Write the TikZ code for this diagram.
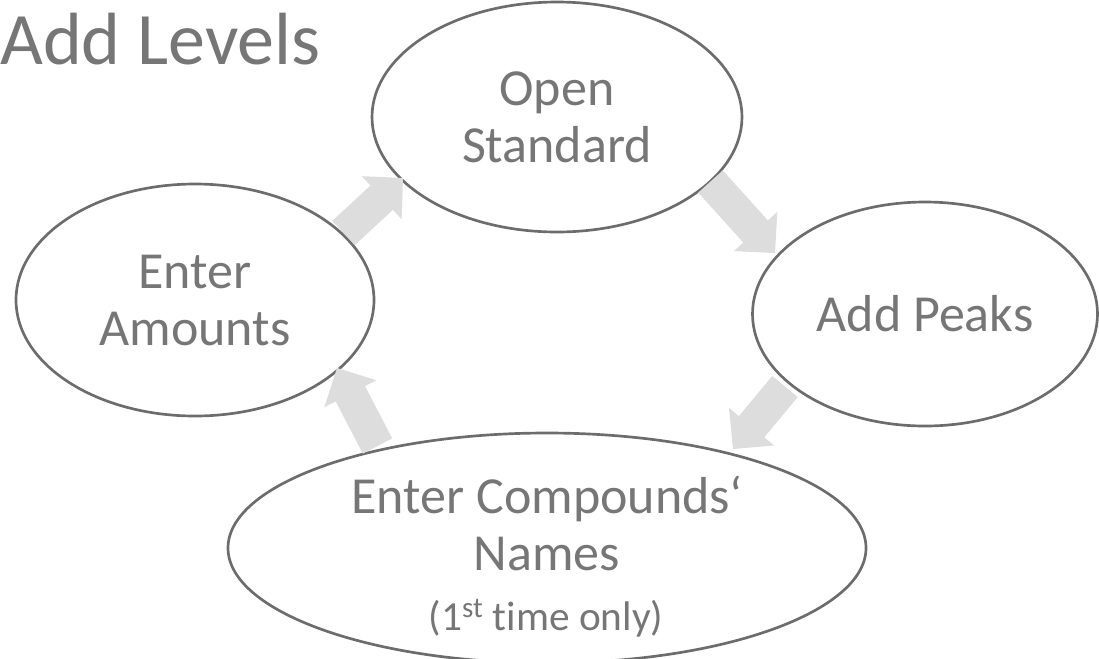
\documentclass[tikz,border=0pt]{standalone}
\usepackage{fontspec}
\setmainfont{Carlito}[Ligatures={NoCommon}]
\usetikzlibrary{shapes.geometric,calc}

\definecolor{labelgray}{RGB}{118,118,118}
\definecolor{rimgray}{RGB}{108,108,108}
\definecolor{arrowgray}{RGB}{221,221,221}

% block arrow from tail coordinate #1 to tip coordinate #2
\newcommand\blockarrow[2]{%
  \coordinate (#1-base) at ($(#2)!21.75pt!(#1)$);
  \fill[flowarrow]
    ($(#1)!12.4pt!90:(#2)$) -- ($(#1-base)!12.4pt!90:(#2)$) --
    ($(#1-base)!22pt!90:(#2)$) -- (#2) --
    ($(#1-base)!22pt!-90:(#2)$) -- ($(#1-base)!12.4pt!-90:(#2)$) --
    ($(#1)!12.4pt!-90:(#2)$) -- cycle;}

\tikzset{
  step text/.style={text=labelgray, align=center, inner sep=0pt,
    font=\fontsize{39}{42.75}\selectfont},
  step node/.style={ellipse, draw=rimgray, line width=2pt, step text},
  note text/.style={step text, font=\fontsize{31}{34}\selectfont},
  flowarrow/.style={fill=arrowgray},
  heading/.style={text=labelgray, inner sep=0pt, anchor=base west,
    font=\fontsize{55.5}{60}\selectfont}
}

\begin{document}
\begin{tikzpicture}[x=0.75pt, y=-0.75pt]
  \useasboundingbox (0,0) rectangle (1099,658);

  \node[heading] (title) at (0,64) {Add Levels};

  \node[step node, minimum width=277.5pt, minimum height=172.5pt]
    (open) at (557,117) {Open\\Standard};
  \node[step node, minimum width=258.75pt, minimum height=168pt]
    (peaks) at (925,314) {Add Peaks};
  \node[step node, minimum width=268.5pt, minimum height=174pt]
    (amounts) at (195,300) {Enter\\Amounts};

  % bottom step: the ellipse runs just past the lower edge
  \node[step node, minimum width=478.5pt, minimum height=172.5pt]
    (names) at (547,548) {};
  \node[step text, anchor=base] (names-l1) at (547,513) {Enter Compounds‘};
  \node[step text, anchor=base] (names-l2) at (547,570) {Names};
  \node[note text, anchor=base] (names-l3) at (546,630)
    {(1\textsuperscript{st} time only)};

  % cycle arrows between the steps
  \coordinate (a1) at (343.5,233); \coordinate (a1tip) at (403,178);
  \coordinate (a2) at (710.5,181.5); \coordinate (a2tip) at (775,253);
  \coordinate (a3) at (785,386.5); \coordinate (a3tip) at (733,449);
  \coordinate (a4) at (377.5,446); \coordinate (a4tip) at (337,368);
  \blockarrow{a1}{a1tip}
  \blockarrow{a2}{a2tip}
  \blockarrow{a3}{a3tip}
  \blockarrow{a4}{a4tip}
\end{tikzpicture}
\end{document}
